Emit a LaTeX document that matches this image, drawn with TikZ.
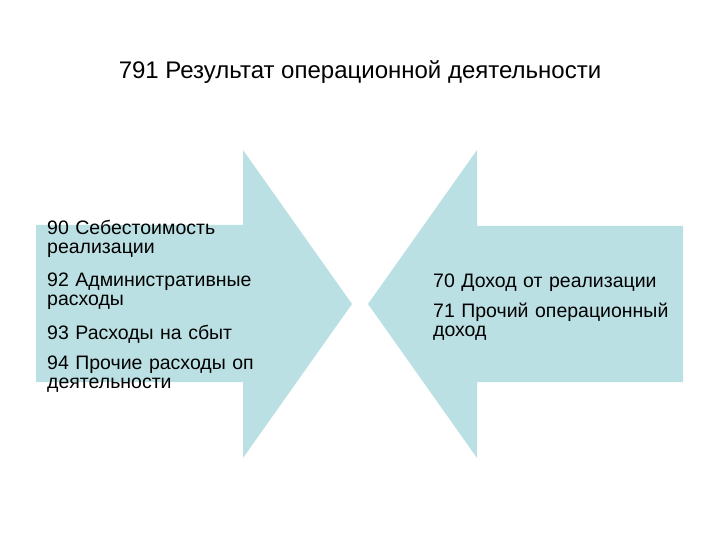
\documentclass[tikz,border=0pt]{standalone}
\usepackage{fontspec}
\setmainfont{Liberation Sans}
\definecolor{arrowfill}{RGB}{187,224,227}
\tikzset{
  item/.style={anchor=base west,inner sep=0pt,text width=260pt,align=left,
    font=\fontsize{19.5}{19.5}\selectfont},
  title/.style={inner sep=0pt,font=\fontsize{24}{28}\selectfont}
}
\begin{document}
\begin{tikzpicture}[x=1pt,y=-1pt]
\useasboundingbox (0,0) rectangle (720,540);
% left arrow
\coordinate (A) at (36,225);
\coordinate (B) at (243,225);
\coordinate (C) at (243,150);
\coordinate (D) at (352,304);
\coordinate (E) at (243,458);
\coordinate (F) at (243,382);
\coordinate (G) at (36,382);
\fill[arrowfill] (A)--(B)--(C)--(D)--(E)--(F)--(G)--cycle;
% right arrow
\coordinate (H) at (683,226);
\coordinate (I) at (477,226);
\coordinate (J) at (477,150);
\coordinate (K) at (368,304);
\coordinate (L) at (477,458);
\coordinate (M) at (477,382);
\coordinate (N) at (683,382);
\fill[arrowfill] (H)--(I)--(J)--(K)--(L)--(M)--(N)--cycle;
\node[title] (T) at (360,72) {791 Результат операционной деятельности};
\node[item] (S90) at (47,234) {90 Себестоимость\\реализации};
\node[item] (S92) at (47,286) {92 Административные\\расходы};
\node[item] (S93) at (47,339) {93 Расходы на сбыт};
\node[item] (S94) at (47,369) {94 Прочие расходы оп\\деятельности};
\node[item] (S70) at (433,287) {70 Доход от реализации};
\node[item] (S71) at (433,317) {71 Прочий операционный\\доход};
\end{tikzpicture}
\end{document}
